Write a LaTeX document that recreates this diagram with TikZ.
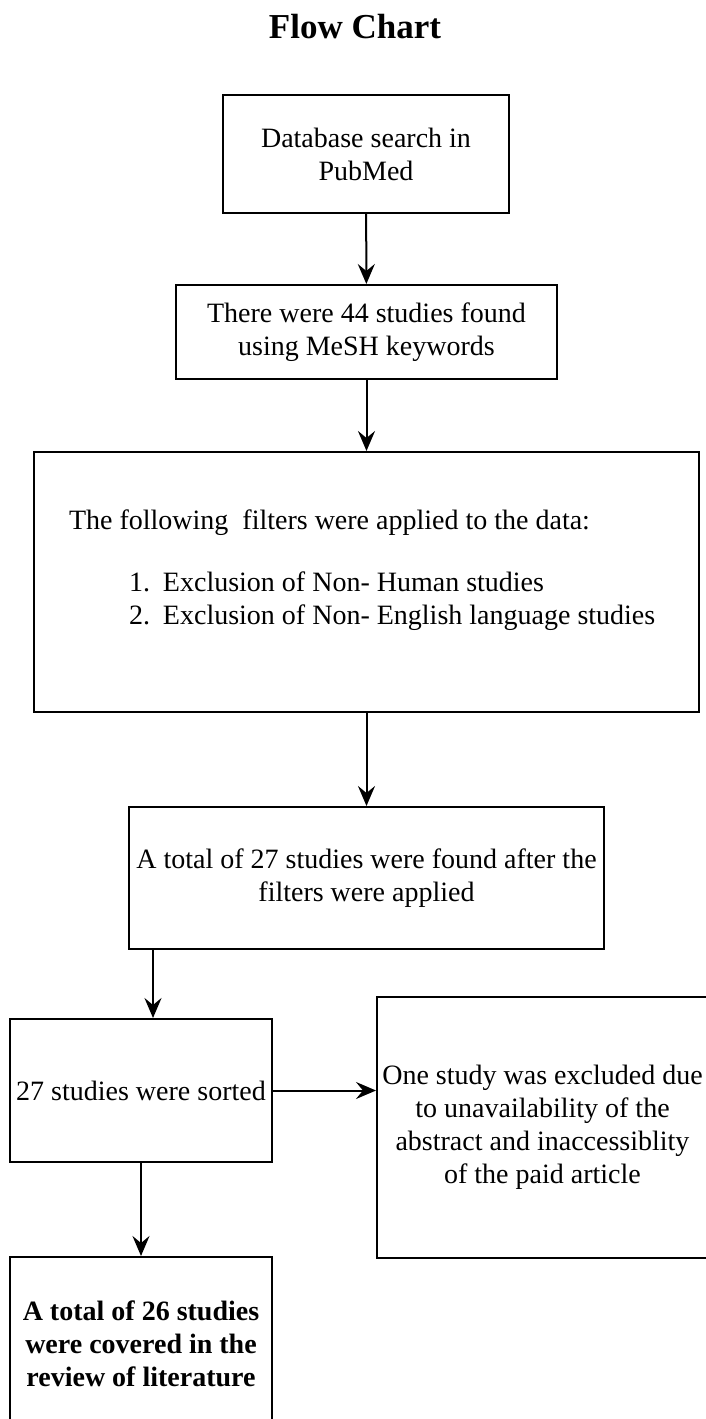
\documentclass[tikz,border=0pt]{standalone}
\usepackage{fontspec}
\setmainfont{Liberation Serif}
\usepackage{tikz}
\usetikzlibrary{arrows.meta}
\tikzset{
  flow box/.style={rectangle,draw,line width=2pt,align=center,inner sep=0pt,font=\fontsize{28}{33}\selectfont},
  plain text/.style={inner sep=0pt,font=\fontsize{28}{33}\selectfont},
  title/.style={font=\bfseries\fontsize{35}{40}\selectfont}
}

\begin{document}
\begin{tikzpicture}[x=1pt,y=-1pt,->,>={Stealth[length=20pt,width=17pt,inset=7pt]},line width=2pt]
		    \useasboundingbox (0,0) rectangle (706,1419);
		    \fill[white] (0,0) rectangle (706,1419);

		    \node[title] (head) at (355,27) {Flow Chart};

		    \node[flow box,minimum width=286pt,minimum height=118pt] (search) at (366,154) {Database search in\\PubMed};
		    \node[flow box,minimum width=381pt,minimum height=94pt] (found) at (366.5,332) {There were 44 studies found\\using MeSH keywords};
		    \node[flow box,minimum width=665pt,minimum height=260pt] (filters) at (366.5,582) {};
		    % text of the filter box, placed by the baseline of its last line
		    \node[plain text,anchor=base west,align=left] (filtertext) at (68,624)
		        {The following\ \ filters were applied to the data:\\[29pt]
		         \hspace*{60pt}\makebox[34pt][l]{1.}Exclusion of Non- Human studies\\
		         \hspace*{60pt}\makebox[34pt][l]{2.}Exclusion of Non- English language studies};

		    \node[flow box,minimum width=475pt,minimum height=142pt] (total) at (366.5,878) {A total of 27 studies were found after the\\filters were applied};

		    \node[flow box,minimum width=262pt,minimum height=143pt] (sorted) at (141,1090.5) {27 studies were sorted};
		    \node[flow box,minimum width=331pt,minimum height=261pt] (excluded) at (542.5,1127) {One study was excluded due\\to unavailability of the\\abstract and inaccessiblity\\of the paid article};
		    \node[flow box,minimum width=262pt,minimum height=174pt,font=\bfseries\fontsize{28}{33}\selectfont] (review) at (141,1344) {A total of 26 studies\\were covered in the\\review of literature};

		    \draw (search) -- (found);
		    \draw (found) -- (filters);
		    \draw (filters) -- (total);
		    \draw ([xshift=12pt]sorted.north |- total.south) -- ([xshift=12pt]sorted.north);
		    \draw (sorted.east) -- (excluded.west |- sorted.east);
		    \draw (sorted) -- (review);
\end{tikzpicture}
\end{document}
